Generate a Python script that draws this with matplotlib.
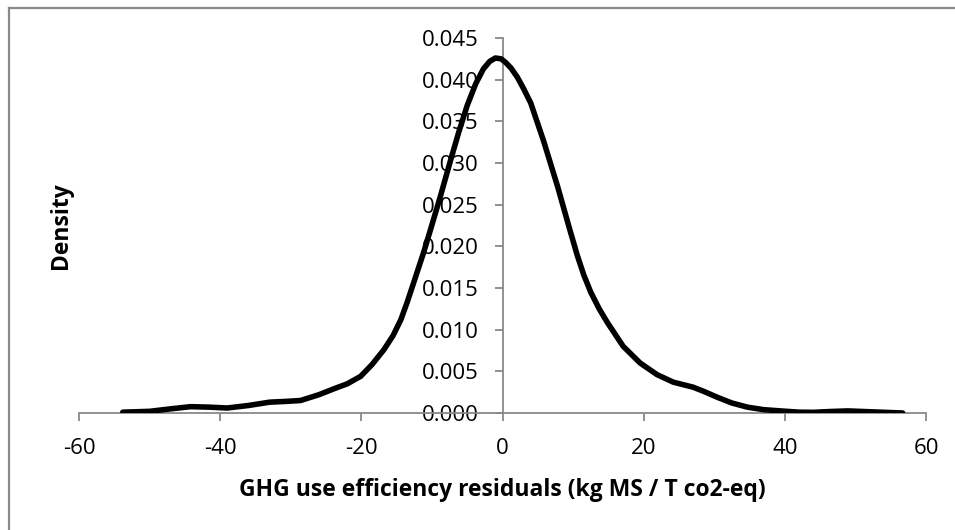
import numpy as np
import matplotlib.pyplot as plt
from matplotlib.lines import Line2D

# density curve
resid = [-53.8, -50.0, -47.0, -44.2, -41.5, -39.0, -36.0, -33.0, -30.5, -28.6,
         -26.0, -23.9, -22.0, -20.1, -18.5, -16.8, -15.5, -14.4, -13.5, -12.6,
         -11.2, -10.2, -8.8, -7.4, -6.2, -5.0, -3.8, -2.7, -1.8, -1.0,
         -0.2, 0.4, 1.2, 2.1, 3.0, 4.0, 5.8, 7.8, 9.4, 10.6,
         11.5, 12.5, 13.7, 14.9, 17.1, 19.5, 21.9, 24.2, 27.0, 28.5,
         30.4, 32.5, 34.7, 37.0, 39.4, 42.0, 44.0, 46.5, 48.9, 52.0,
         56.7]
density = [0.0001, 0.0002, 0.0005, 0.00076, 0.0007, 0.0006, 0.0009, 0.0013, 0.0014, 0.0015,
           0.0022, 0.0029, 0.0035, 0.0044, 0.0058, 0.0076, 0.0093, 0.0112, 0.0133, 0.0156,
           0.0192, 0.0220, 0.0260, 0.0302, 0.0337, 0.0369, 0.0395, 0.0413, 0.0422, 0.0426,
           0.0425, 0.0421, 0.0414, 0.0403, 0.0389, 0.0372, 0.0327, 0.0272, 0.0224, 0.0189,
           0.0166, 0.0145, 0.0125, 0.0108, 0.0080, 0.0060, 0.0046, 0.0037, 0.0031, 0.0026,
           0.0019, 0.0012, 0.0007, 0.0004, 0.00025, 0.0001, 0.00008, 0.00018, 0.00025, 0.00015,
           0.0]

x_ticks = [-60, -40, -20, 0, 20, 40, 60]
y_ticks = [0.000, 0.005, 0.010, 0.015, 0.020, 0.025, 0.030, 0.035, 0.040, 0.045]

plt.rcParams["font.family"] = ["Open Sans", "DejaVu Sans"]
plt.rcParams["axes.unicode_minus"] = False
grey = "#898989"

W, H = 955, 530
fig = plt.figure(figsize=(W / 100, H / 100), dpi=100)
ax = fig.add_axes([79 / W, 1 - 413 / H, (926 - 79) / W, (413 - 38) / H])

ax.plot(resid, density, color="black", linewidth=4.0, solid_joinstyle="round",
        solid_capstyle="round", zorder=3)

ax.set_xlim(-60, 60)
ax.set_ylim(0, 0.045)
ax.set_xticks(x_ticks)
ax.set_yticks(y_ticks)
ax.set_yticklabels([f"{v:.3f}" for v in y_ticks])

ax.spines["top"].set_visible(False)
ax.spines["right"].set_visible(False)
ax.spines["left"].set_position(("data", 0))
for s in ("left", "bottom"):
    ax.spines[s].set_color(grey)
    ax.spines[s].set_linewidth(1.3)

ax.tick_params(axis="both", colors=grey, labelcolor="black", labelsize=16,
               length=6, width=1.3, direction="out")
ax.tick_params(axis="y", pad=11)
ax.tick_params(axis="x", pad=12)

ax.set_xlabel("GHG use efficiency residuals (kg MS / T co2-eq)",
              fontsize=16.5, fontweight="bold", labelpad=14)
fig.text(61 / W, 1 - 226 / H, "Density", rotation=90, fontsize=16.5,
         fontweight="bold", ha="center", va="center")

# chart-area border: only its top and left edges fall inside the image
bx, by = 9 / W, 1 - 8 / H
fig.add_artist(Line2D([bx, bx], [0, by], transform=fig.transFigure,
                      color=grey, linewidth=1.6))
fig.add_artist(Line2D([bx, 1], [by, by], transform=fig.transFigure,
                      color=grey, linewidth=1.6))

fig.savefig("out.png", dpi=100)
